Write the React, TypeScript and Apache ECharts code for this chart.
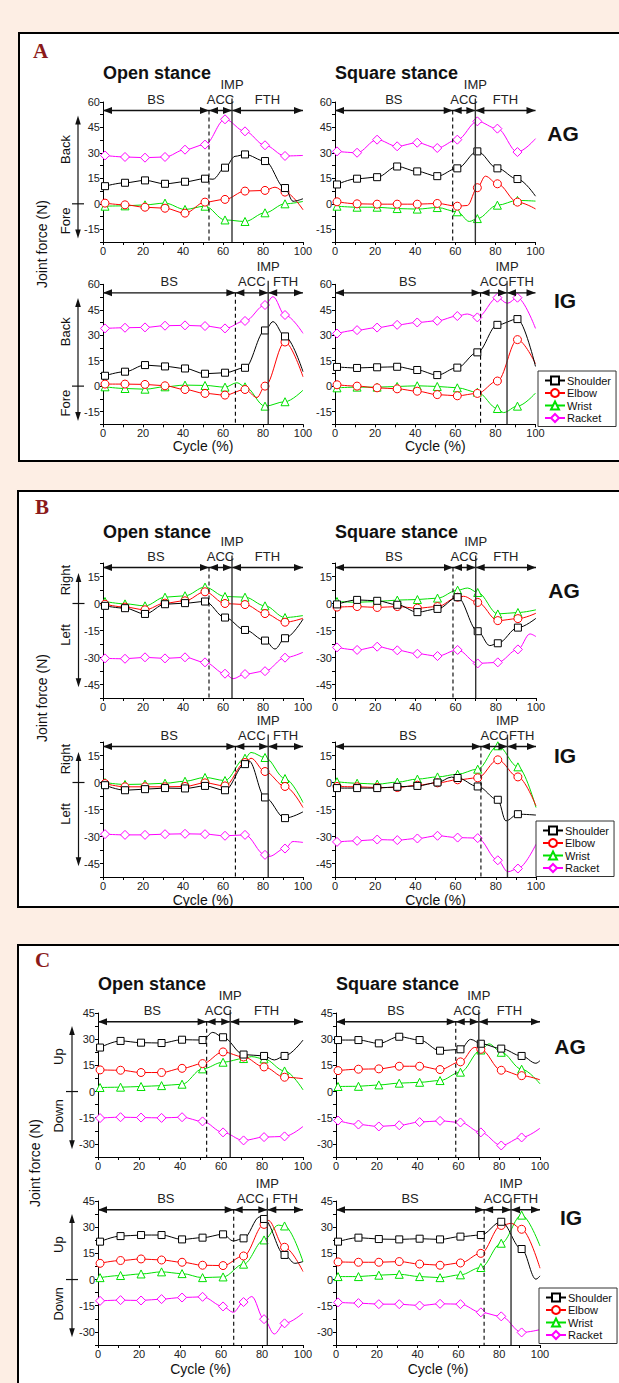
import React, { useEffect, useRef } from "react";
import * as echarts from "echarts";

// ---------------- DATA ----------------
const CYCLE = [1, 11, 21, 31, 41, 51, 61, 71, 81, 91];
const SERIES_NAMES = ["Shoulder", "Elbow", "Wrist", "Racket"];
const X_LABELS = [0, 20, 40, 60, 80, 100];
const PHASES = ["BS", "ACC", "IMP", "FTH"];
const STANCES = ["Open stance", "Square stance"];
const GROUPS = ["AG", "IG"];
// [end of backswing, impact] in % of cycle
const OPEN_AG_EVENTS = [53, 64.5];
const SQUARE_AG_EVENTS = [58.7, 70];
const OPEN_IG_EVENTS = [66.2, 82.6];
const SQUARE_IG_EVENTS = [72.6, 85.8];

// Panel A : Back(+)/Fore(-)
const A_OPEN_AG_SHOULDER = [10.4, 12.4, 13.8, 11.8, 13, 14.8, 21.3, 29.1, 25.2, 9.3];
const A_OPEN_AG_SHOULDER_CURVE = [[55, 14.5], [66, 28], [95, 1.5], [100, 3]];
const A_OPEN_AG_ELBOW = [0.4, -0.6, -2, -2.6, -5.5, 1, 2.6, 7.5, 7.9, 6.9];
const A_OPEN_AG_ELBOW_CURVE = [[86, 9.8], [100, -3.5]];
const A_OPEN_AG_WRIST = [-1.4, -1.2, -0.6, 0.4, -3.3, -1.4, -9.5, -10.4, -5.3, 0];
const A_OPEN_AG_WRIST_CURVE = [[100, 1.4]];
const A_OPEN_AG_RACKET = [28.5, 27.6, 27.2, 27.6, 31.9, 34.9, 49.8, 42.7, 34.5, 28.2];
const A_OPEN_AG_RACKET_CURVE = [[100, 28.5]];

const A_SQUARE_AG_SHOULDER = [11.4, 14.8, 15.7, 22, 19.1, 16.3, 20.9, 30.9, 20.9, 14.6];
const A_SQUARE_AG_SHOULDER_CURVE = [[100, 4.5]];
const A_SQUARE_AG_ELBOW = [1.2, 0, -0.2, -0.2, -0.2, 0.2, -1.4, 9.5, 11.8, 1];
const A_SQUARE_AG_ELBOW_CURVE = [[66, -1], [75, 16.3], [100, -3]];
const A_SQUARE_AG_WRIST = [-1.4, -2, -2, -2.8, -3.1, -2.2, -4.7, -8.7, -0.8, 2];
const A_SQUARE_AG_WRIST_CURVE = [[67, -10.4], [100, 1.6]];
const A_SQUARE_AG_RACKET = [30.9, 30.1, 37.8, 33.9, 36, 32.9, 37.8, 48.6, 44.3, 30.5];
const A_SQUARE_AG_RACKET_CURVE = [[100, 38.4]];

const A_OPEN_IG_SHOULDER = [6.1, 8.5, 12.4, 11.6, 10.4, 7.3, 7.9, 10.8, 32.8, 29.3];
const A_OPEN_IG_SHOULDER_CURVE = [[85, 38], [100, 8.5]];
const A_OPEN_IG_ELBOW = [1.2, 1.2, 1, 0.2, -2, -4.3, -5.3, -2, 0, 26];
const A_OPEN_IG_ELBOW_CURVE = [[77, -6.7], [100, 5.5]];
const A_OPEN_IG_WRIST = [-0.4, -1.4, -1.8, -0.4, 0.6, 0.4, -0.6, -0.4, -11.8, -9.2];
const A_OPEN_IG_WRIST_CURVE = [[67, 2], [100, -2.4]];
const A_OPEN_IG_RACKET = [34, 34.4, 34.6, 35.6, 35.8, 35.4, 34, 38.4, 47.8, 41.9];
const A_OPEN_IG_RACKET_CURVE = [[85, 52.7], [100, 31.1]];

const A_SQUARE_IG_SHOULDER = [11.3, 10.7, 11.1, 11.4, 9.5, 6.5, 10.9, 19.9, 36.1, 39.5];
const A_SQUARE_IG_SHOULDER_CURVE = [[100, 11.6]];
const A_SQUARE_IG_ELBOW = [0.8, 0, -1, -1.6, -3, -5, -5.7, -4.3, 3, 27.4];
const A_SQUARE_IG_ELBOW_CURVE = [[100, 13.2]];
const A_SQUARE_IG_WRIST = [-1, -0.6, -0.6, -0.2, 0.2, -0.2, -1, -3.6, -13.2, -11.8];
const A_SQUARE_IG_WRIST_CURVE = [[84, -15.6], [100, -4.1]];
const A_SQUARE_IG_RACKET = [31, 33, 34.5, 36.1, 37.5, 38.5, 41.3, 40.5, 52.1, 52.1];
const A_SQUARE_IG_RACKET_CURVE = [[66, 42.5], [86, 48.8], [100, 34]];

// Panel B : Right(+)/Left(-)
const B_OPEN_AG_SHOULDER = [-1.3, -2.6, -5.8, -0.4, 0.2, 1.1, -7.8, -14.7, -20.6, -19.3];
const B_OPEN_AG_SHOULDER_CURVE = [[86, -25.3], [100, -8.7]];
const B_OPEN_AG_ELBOW = [-0.4, -2, -3.5, 0.2, 1.5, 6.5, 0, -0.6, -5.6, -10.4];
const B_OPEN_AG_ELBOW_CURVE = [[100, -8.2]];
const B_OPEN_AG_WRIST = [1.1, -0.2, -1.3, 3.5, 4.3, 9.1, 3.9, 3.5, -1.3, -7.8];
const B_OPEN_AG_WRIST_CURVE = [[100, -6.7]];
const B_OPEN_AG_RACKET = [-30.5, -30.7, -29.9, -30.5, -29.9, -32.7, -39, -39.2, -37.6, -30.1];
const B_OPEN_AG_RACKET_CURVE = [[65, -41.8], [100, -27.1]];

const B_SQUARE_AG_SHOULDER = [-0.5, 2, 1.5, -0.7, -4.8, -3, 3.5, -15.4, -22.1, -13.4];
const B_SQUARE_AG_SHOULDER_CURVE = [[77, -23.4], [100, -8.2]];
const B_SQUARE_AG_ELBOW = [-2, -1.7, -2.2, -1.7, -2.6, -1.7, 3.5, 0.6, -9.5, -8.4];
const B_SQUARE_AG_ELBOW_CURVE = [[64, 4], [100, -5.4]];
const B_SQUARE_AG_WRIST = [1.1, 0.7, 1.1, 1.9, 2.2, 3, 7.4, 6.1, -5.8, -5];
const B_SQUARE_AG_WRIST_CURVE = [[66, 8.6], [100, -3.5]];
const B_SQUARE_AG_RACKET = [-24.4, -25.8, -24, -26, -27.9, -29.2, -25.8, -33.3, -32.7, -25.5];
const B_SQUARE_AG_RACKET_CURVE = [[97, -16.9], [100, -18.4]];

const B_OPEN_IG_SHOULDER = [-1.5, -4.3, -3.7, -3.1, -3.3, -1.9, -4.3, 10.2, -8.3, -19.8];
const B_OPEN_IG_SHOULDER_CURVE = [[73, 12], [100, -16.3]];
const B_OPEN_IG_ELBOW = [-0.6, -2.4, -2.4, -2.4, -2.2, -0.2, -1.9, 11.1, 6.1, -2.2];
const B_OPEN_IG_ELBOW_CURVE = [[74, 13.5], [100, -13.9]];
const B_OPEN_IG_WRIST = [0, -1.1, -0.9, -0.4, 0.7, 2.8, 1.1, 13.5, 13.9, 2.2];
const B_OPEN_IG_WRIST_CURVE = [[74, 16.7], [100, -11.1]];
const B_OPEN_IG_RACKET = [-28.7, -29.1, -29.1, -28.7, -28.5, -28.7, -29.6, -29.1, -40.2, -36.7];
const B_OPEN_IG_RACKET_CURVE = [[83, -41.1], [95, -32.8], [100, -33.3]];

const B_SQUARE_IG_SHOULDER = [-3.1, -3.1, -3.1, -2.4, -1.9, 0, 2.5, -2.2, -9.6, -17.6];
const B_SQUARE_IG_SHOULDER_CURVE = [[58, 3], [85, -21.3], [100, -18.1]];
const B_SQUARE_IG_ELBOW = [-2.2, -2.4, -2.8, -2.8, -1.5, -0.2, 1.5, 2.6, 12.6, 3.1];
const B_SQUARE_IG_ELBOW_CURVE = [[100, -13]];
const B_SQUARE_IG_WRIST = [0.4, -0.4, -0.9, 0.2, 1.9, 3.1, 4.6, 7.4, 20.4, 8.7];
const B_SQUARE_IG_WRIST_CURVE = [[100, -13.9]];
const B_SQUARE_IG_RACKET = [-33, -32.4, -31.7, -32, -31.1, -29.6, -30.6, -30.9, -43.2, -47.8];
const B_SQUARE_IG_RACKET_CURVE = [[86, -49.6], [100, -34.3]];

// Panel C : Up(+)/Down(-)
const C_OPEN_AG_SHOULDER = [25.2, 29, 28, 27.8, 29.7, 29.5, 31.1, 21.2, 20.4, 20.4];
const C_OPEN_AG_SHOULDER_CURVE = [[56, 33.9], [86, 18.1], [100, 29.5]];
const C_OPEN_AG_ELBOW = [12.4, 12.2, 10.9, 10.9, 13.3, 16, 22.7, 19.8, 14.1, 8.2];
const C_OPEN_AG_ELBOW_CURVE = [[100, 7.4]];
const C_OPEN_AG_WRIST = [2.3, 2.5, 2.9, 3.4, 4.2, 13, 16.8, 18.9, 18.7, 11.8];
const C_OPEN_AG_WRIST_CURVE = [[75, 20], [100, 1]];
const C_OPEN_AG_RACKET = [-15.2, -14.7, -14.9, -15.1, -14.7, -17.1, -23.4, -28, -26.1, -25.7];
const C_OPEN_AG_RACKET_CURVE = [[100, -20]];

const C_SQUARE_AG_SHOULDER = [29.5, 29.5, 27.6, 31.4, 29.5, 23.4, 24.2, 27.4, 24.6, 20.4];
const C_SQUARE_AG_SHOULDER_CURVE = [[66, 29.9], [98, 16.2], [100, 17.7]];
const C_SQUARE_AG_ELBOW = [12, 12.8, 13, 14.5, 14.5, 12.6, 17, 24.2, 12.2, 9.1];
const C_SQUARE_AG_ELBOW_CURVE = [[68, 25.3], [100, 6.7]];
const C_SQUARE_AG_WRIST = [2.9, 3, 3.8, 4.8, 5.3, 6.3, 11.1, 23.8, 22.5, 12.8];
const C_SQUARE_AG_WRIST_CURVE = [[75, 27.3], [100, 4.4]];
const C_SQUARE_AG_RACKET = [-16.6, -18.9, -20, -19.3, -17.5, -16.8, -17.7, -23.4, -30.9, -26.3];
const C_SQUARE_AG_RACKET_CURVE = [[100, -21]];

const C_OPEN_IG_SHOULDER = [21.7, 24.9, 25.5, 25.5, 23, 24, 25.9, 23.6, 34.7, 14.1];
const C_OPEN_IG_SHOULDER_CURVE = [[66, 22.1], [79, 36], [96, 9.3], [100, 10.3]];
const C_OPEN_IG_ELBOW = [9.3, 10.9, 11.8, 11.2, 9.9, 8.2, 8, 13.5, 31.6, 18.5];
const C_OPEN_IG_ELBOW_CURVE = [[83, 33.9], [100, 4.6]];
const C_OPEN_IG_WRIST = [1.1, 2.3, 3.2, 4.4, 3.4, 1.1, 1.5, 8.8, 22.7, 30.7];
const C_OPEN_IG_WRIST_CURVE = [[88, 31.2], [100, 10.3]];
const C_OPEN_IG_RACKET = [-12.2, -11.8, -12, -11.2, -10.3, -9.9, -15.4, -12.9, -22.7, -25.1];
const C_OPEN_IG_RACKET_CURVE = [[66, -18.8], [75, -9.7], [86, -31.2], [100, -19.2]];

const C_SQUARE_IG_SHOULDER = [21.7, 24, 23.2, 23, 23.4, 23, 24.6, 25.5, 33.1, 17.5];
const C_SQUARE_IG_SHOULDER_CURVE = [[98, 0.2], [100, 2.1]];
const C_SQUARE_IG_ELBOW = [10.1, 9.9, 9.9, 10.3, 8.9, 8.2, 9.5, 15, 31, 28.8];
const C_SQUARE_IG_ELBOW_CURVE = [[86, 32.2], [100, 6.5]];
const C_SQUARE_IG_WRIST = [1.7, 1.7, 2.5, 3, 1.7, 1.1, 2.7, 6.9, 20.8, 36.9];
const C_SQUARE_IG_WRIST_CURVE = [[100, 19.2]];
const C_SQUARE_IG_RACKET = [-13.1, -13.5, -14.1, -14.1, -14.9, -13.9, -14.1, -18.8, -21.1, -30.3];
const C_SQUARE_IG_RACKET_CURVE = [[100, -28.7]];

const A_Y_LABELS = [-15, 0, 15, 30, 45, 60];
const B_Y_LABELS = [-45, -30, -15, 0, 15];
const C_Y_LABELS = [-30, -15, 0, 15, 30, 45];

// ---------------- LAYOUT / STYLE ----------------
const FONT = '"Liberation Sans", Arial, sans-serif';
const BG = "#fdeee4";
const COLORS = ["#000000", "#ff0000", "#00e000", "#ff00ff"];
const SYMBOLS = ["rect", "circle", "triangle", "diamond"];
const SYMBOL_SIZES = [7, 8, 8, 9];

const SUBPLOT_DATA = [
  // panel A
  [[A_OPEN_AG_SHOULDER, A_OPEN_AG_SHOULDER_CURVE], [A_OPEN_AG_ELBOW, A_OPEN_AG_ELBOW_CURVE], [A_OPEN_AG_WRIST, A_OPEN_AG_WRIST_CURVE], [A_OPEN_AG_RACKET, A_OPEN_AG_RACKET_CURVE]],
  [[A_SQUARE_AG_SHOULDER, A_SQUARE_AG_SHOULDER_CURVE], [A_SQUARE_AG_ELBOW, A_SQUARE_AG_ELBOW_CURVE], [A_SQUARE_AG_WRIST, A_SQUARE_AG_WRIST_CURVE], [A_SQUARE_AG_RACKET, A_SQUARE_AG_RACKET_CURVE]],
  [[A_OPEN_IG_SHOULDER, A_OPEN_IG_SHOULDER_CURVE], [A_OPEN_IG_ELBOW, A_OPEN_IG_ELBOW_CURVE], [A_OPEN_IG_WRIST, A_OPEN_IG_WRIST_CURVE], [A_OPEN_IG_RACKET, A_OPEN_IG_RACKET_CURVE]],
  [[A_SQUARE_IG_SHOULDER, A_SQUARE_IG_SHOULDER_CURVE], [A_SQUARE_IG_ELBOW, A_SQUARE_IG_ELBOW_CURVE], [A_SQUARE_IG_WRIST, A_SQUARE_IG_WRIST_CURVE], [A_SQUARE_IG_RACKET, A_SQUARE_IG_RACKET_CURVE]],
  // panel B
  [[B_OPEN_AG_SHOULDER, B_OPEN_AG_SHOULDER_CURVE], [B_OPEN_AG_ELBOW, B_OPEN_AG_ELBOW_CURVE], [B_OPEN_AG_WRIST, B_OPEN_AG_WRIST_CURVE], [B_OPEN_AG_RACKET, B_OPEN_AG_RACKET_CURVE]],
  [[B_SQUARE_AG_SHOULDER, B_SQUARE_AG_SHOULDER_CURVE], [B_SQUARE_AG_ELBOW, B_SQUARE_AG_ELBOW_CURVE], [B_SQUARE_AG_WRIST, B_SQUARE_AG_WRIST_CURVE], [B_SQUARE_AG_RACKET, B_SQUARE_AG_RACKET_CURVE]],
  [[B_OPEN_IG_SHOULDER, B_OPEN_IG_SHOULDER_CURVE], [B_OPEN_IG_ELBOW, B_OPEN_IG_ELBOW_CURVE], [B_OPEN_IG_WRIST, B_OPEN_IG_WRIST_CURVE], [B_OPEN_IG_RACKET, B_OPEN_IG_RACKET_CURVE]],
  [[B_SQUARE_IG_SHOULDER, B_SQUARE_IG_SHOULDER_CURVE], [B_SQUARE_IG_ELBOW, B_SQUARE_IG_ELBOW_CURVE], [B_SQUARE_IG_WRIST, B_SQUARE_IG_WRIST_CURVE], [B_SQUARE_IG_RACKET, B_SQUARE_IG_RACKET_CURVE]],
  // panel C
  [[C_OPEN_AG_SHOULDER, C_OPEN_AG_SHOULDER_CURVE], [C_OPEN_AG_ELBOW, C_OPEN_AG_ELBOW_CURVE], [C_OPEN_AG_WRIST, C_OPEN_AG_WRIST_CURVE], [C_OPEN_AG_RACKET, C_OPEN_AG_RACKET_CURVE]],
  [[C_SQUARE_AG_SHOULDER, C_SQUARE_AG_SHOULDER_CURVE], [C_SQUARE_AG_ELBOW, C_SQUARE_AG_ELBOW_CURVE], [C_SQUARE_AG_WRIST, C_SQUARE_AG_WRIST_CURVE], [C_SQUARE_AG_RACKET, C_SQUARE_AG_RACKET_CURVE]],
  [[C_OPEN_IG_SHOULDER, C_OPEN_IG_SHOULDER_CURVE], [C_OPEN_IG_ELBOW, C_OPEN_IG_ELBOW_CURVE], [C_OPEN_IG_WRIST, C_OPEN_IG_WRIST_CURVE], [C_OPEN_IG_RACKET, C_OPEN_IG_RACKET_CURVE]],
  [[C_SQUARE_IG_SHOULDER, C_SQUARE_IG_SHOULDER_CURVE], [C_SQUARE_IG_ELBOW, C_SQUARE_IG_ELBOW_CURVE], [C_SQUARE_IG_WRIST, C_SQUARE_IG_WRIST_CURVE], [C_SQUARE_IG_RACKET, C_SQUARE_IG_RACKET_CURVE]],
];
const EVENTS = [OPEN_AG_EVENTS, SQUARE_AG_EVENTS, OPEN_IG_EVENTS, SQUARE_IG_EVENTS];

const PANELS = [
  {
    letter: "A", letterPos: [33, 51], yMin: -22.5, yMax: 60, yLabels: A_Y_LABELS, arrowVal: 55,
    tops: [102, 284.3], height: 140, lefts: [103, 335], widths: [200, 200.5],
    up: "Back", down: "Fore", upVal: 32, downVal: -10, vTop: 52, vBot: -20.5, vDx: 25, lDx: 37.5,
    titleY: 73, side: [[563, 133], [565, 300]], joint: [42, 244], cycleY: 445.5, legend: [538, 371],
  },
  {
    letter: "B", letterPos: [35, 507], yMin: -52.5, yMax: 22.5, yLabels: B_Y_LABELS, arrowVal: 20,
    tops: [563, 742], height: 135, lefts: [103, 335], widths: [200, 201],
    up: "Right", down: "Left", upVal: 13, downVal: -17.5, vTop: 17, vBot: -46.5, vDx: 24.5, lDx: 37.5,
    titleY: 532, side: [[564, 590], [565, 755]], joint: [42, 698], cycleY: 899.5, legend: [536, 821],
  },
  {
    letter: "C", letterPos: [35, 960], yMin: -37.5, yMax: 45, yLabels: C_Y_LABELS, arrowVal: 40,
    tops: [1013, 1201], height: 144, lefts: [98, 336], widths: [205, 204],
    up: "Up", down: "Down", upVal: 20, downVal: -14, vTop: 37.5, vBot: -33, vDx: 26, lDx: 39.5,
    titleY: 983.5, side: [[570, 1046], [571, 1217]], joint: [35, 1163], cycleY: 1369, legend: [539, 1288],
  },
];

const BOXES = [
  { left: 17.5, top: 32, height: 430 },
  { left: 16.5, top: 490, height: 418 },
  { left: 16.5, top: 944, height: 500 },
];

function buildOption() {
  const grid: any[] = [];
  const xAxis: any[] = [];
  const yAxis: any[] = [];
  const series: any[] = [];
  const legend: any[] = [];
  PANELS.forEach((p, pi) => {
    for (let r = 0; r < 2; r++) {
      for (let c = 0; c < 2; c++) {
        const g = pi * 4 + r * 2 + c;
        grid.push({ left: p.lefts[c], top: p.tops[r], width: p.widths[c], height: p.height, containLabel: false });
        xAxis.push({
          type: "value", gridIndex: g, min: 0, max: 100, interval: 10,
          axisLine: { onZero: false, lineStyle: { color: "#000", width: 1 } },
          axisTick: { length: 3, lineStyle: { color: "#000" } },
          splitLine: { show: false },
          axisLabel: {
            margin: 3.5, fontSize: 11, color: "#222", fontFamily: FONT,
            formatter: (v: number) => (X_LABELS.includes(Math.round(v)) && Math.abs(v - Math.round(v)) < 1e-6 ? String(Math.round(v)) : ""),
          },
        });
        yAxis.push({
          type: "value", gridIndex: g, min: p.yMin, max: p.yMax, interval: 7.5,
          axisLine: { show: true, onZero: false, lineStyle: { color: "#000", width: 1 } },
          axisTick: { length: 3, lineStyle: { color: "#000" } },
          splitLine: { show: false },
          axisLabel: {
            margin: 3, fontSize: 11, color: "#222", fontFamily: FONT,
            formatter: (v: number) => {
              const lab = p.yLabels.find((t) => Math.abs(t - v) < 1e-6);
              return lab === undefined ? "" : String(lab);
            },
          },
        });
        SUBPLOT_DATA[g].forEach(([markers, curve]: any, si: number) => {
          const pts: any[] = markers.map((v: number, i: number) => ({ value: [CYCLE[i], v] }));
          (curve as number[][]).forEach(([x, y]) => pts.push({ value: [x, y], symbol: "none" }));
          pts.sort((a, b) => a.value[0] - b.value[0]);
          series.push({
            type: "line", name: SERIES_NAMES[si], xAxisIndex: g, yAxisIndex: g, data: pts,
            smooth: 0.35, smoothMonotone: "x", symbol: SYMBOLS[si], symbolSize: SYMBOL_SIZES[si], showSymbol: true,
            lineStyle: { color: COLORS[si], width: 1 },
            itemStyle: { color: "#ffffff", borderColor: COLORS[si], borderWidth: 1 },
            emphasis: { disabled: true }, z: 3 + (3 - si),
          });
        });
      }
    }
    legend.push({
      data: SERIES_NAMES, orient: "vertical", left: p.legend[0], top: p.legend[1],
      itemWidth: 20, itemHeight: 10, itemGap: 1.5, padding: [4, 5, 3, 6],
      borderColor: "#333", borderWidth: 1, backgroundColor: "#fff", selectedMode: false,
      textStyle: { fontSize: 11, color: "#111", fontFamily: FONT, padding: [0, 0, 0, -3] },
    });
  });
  return { animation: false, grid, xAxis, yAxis, series, legend };
}

function txt(x: number, y: number, text: string, size: number, opts: any = {}) {
  return {
    type: "text", x, y, rotation: opts.rotation || 0, z: 10,
    style: {
      text, fill: opts.color || "#222", fontSize: size, fontWeight: opts.bold ? "bold" : "normal",
      fontFamily: opts.family || FONT, align: opts.align || "center", verticalAlign: "middle",
      textAlign: opts.align || "center", textVerticalAlign: "middle",
    },
  };
}

function buildGraphics(chart: any) {
  const els: any[] = [];
  const head = (x: number, y: number, dir: string, L = 9, H = 3.5) => {
    let pts: number[][];
    if (dir === "left") pts = [[x, y], [x + L, y - H], [x + L, y + H]];
    else if (dir === "right") pts = [[x, y], [x - L, y - H], [x - L, y + H]];
    else if (dir === "up") pts = [[x, y], [x - H, y + L], [x + H, y + L]];
    else pts = [[x, y], [x - H, y - L], [x + H, y - L]];
    els.push({ type: "polygon", shape: { points: pts }, style: { fill: "#111" }, z: 10 });
  };
  const line = (x1: number, y1: number, x2: number, y2: number, style: any) =>
    els.push({ type: "line", shape: { x1, y1, x2, y2 }, style: { stroke: "#111", lineWidth: 1.2, ...style }, z: 10 });

  PANELS.forEach((p, pi) => {
    els.push(txt(p.letterPos[0], p.letterPos[1], p.letter, 21, { bold: true, color: "#8b1a1a", family: '"Liberation Serif", "Times New Roman", serif', align: "left" }));
    els.push(txt(p.joint[0], p.joint[1], "Joint force (N)", 14, { rotation: Math.PI / 2, color: "#111" }));
    for (let r = 0; r < 2; r++) {
      for (let c = 0; c < 2; c++) {
        const g = pi * 4 + r * 2 + c;
        const [e1, e2] = EVENTS[r * 2 + c];
        const px = (x: number, y: number) => chart.convertToPixel({ gridIndex: g }, [x, y]);
        const [x0, ya] = px(0, p.arrowVal);
        const [x100] = px(100, p.arrowVal);
        const [xe1] = px(e1, p.arrowVal);
        const [xe2] = px(e2, p.arrowVal);
        const [, yb] = px(0, p.yMin);
        // phase arrows
        line(x0, ya, x100, ya, { lineWidth: 1.3 });
        head(x0, ya, "left");
        head(xe1, ya, "right");
        head(xe1, ya, "left");
        head(xe2, ya, "right");
        head(xe2, ya, "left");
        head(x100, ya, "right");
        line(xe1, ya, xe1, yb, { lineDash: [4, 3], lineWidth: 1.1, stroke: "#000" });
        line(xe2, ya - 12, xe2, yb, { lineWidth: 1.4, stroke: "#333" });
        els.push(txt((x0 + xe1) / 2, ya - 11, PHASES[0], 13));
        els.push(txt((xe1 + xe2) / 2, ya - 11, PHASES[1], 13));
        els.push(txt(xe2, ya - 26, PHASES[2], 13));
        els.push(txt((xe2 + x100) / 2, ya - 11, PHASES[3], 13));
        if (r === 0) {
          els.push(txt(x0, p.titleY, STANCES[c], 18, { bold: true, align: "left", color: "#111" }));
        }
        if (c === 1) {
          els.push(txt(p.side[r][0], p.side[r][1], GROUPS[r], 21, { bold: true, color: "#111" }));
        } else {
          const xv = x0 - p.vDx;
          const [, yTop] = px(0, p.vTop);
          const [, yBot] = px(0, p.vBot);
          const [, yZero] = px(0, 0);
          const [, yUp] = px(0, p.upVal);
          const [, yDown] = px(0, p.downVal);
          line(xv, yTop + 4, xv, yBot - 4, { lineWidth: 1.2 });
          head(xv, yTop, "up", 9, 2.8);
          head(xv, yBot, "down", 9, 2.8);
          line(xv - 6, yZero, xv + 6, yZero, { lineWidth: 1.2 });
          els.push(txt(x0 - p.lDx, yUp, p.up, 13, { rotation: Math.PI / 2, color: "#111" }));
          els.push(txt(x0 - p.lDx, yDown, p.down, 13, { rotation: Math.PI / 2, color: "#111" }));
        }
        if (r === 1) {
          els.push(txt((x0 + x100) / 2, p.cycleY, "Cycle (%)", 14, { color: "#111" }));
        }
      }
    }
  });
  return { elements: els };
}

export default function App() {
  const ref = useRef<HTMLDivElement>(null);
  useEffect(() => {
    document.body.style.margin = "0";
    const chart = echarts.init(ref.current!, undefined, { renderer: "svg" });
    chart.setOption(buildOption());
    chart.setOption({ graphic: buildGraphics(chart) });
    return () => chart.dispose();
  }, []);
  return (
    <div style={{ position: "relative", width: 619, height: 1383, background: BG, overflow: "hidden" }}>
      {BOXES.map((b, i) => (
        <div
          key={i}
          style={{
            position: "absolute", left: b.left, top: b.top, width: 640, height: b.height,
            border: "2.5px solid #000", boxSizing: "border-box", background: "#fff",
          }}
        />
      ))}
      <div ref={ref} style={{ position: "absolute", left: 0, top: 0, width: 619, height: 1383 }} />
    </div>
  );
}
